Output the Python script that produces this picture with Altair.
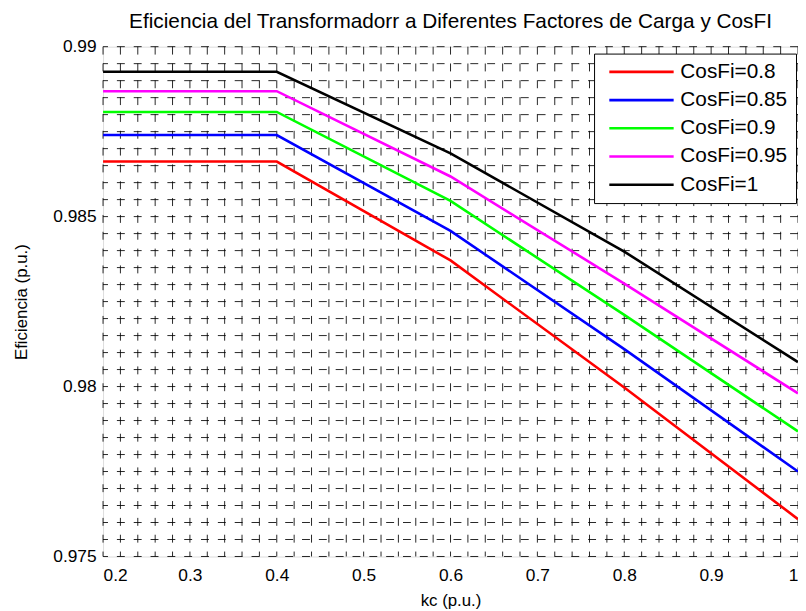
import altair as alt
import pandas as pd

# ---- data ----
kc = [0.2, 0.4, 0.6, 0.8, 1.0]
series_names = ["CosFi=0.8", "CosFi=0.85", "CosFi=0.9", "CosFi=0.95", "CosFi=1"]
ef_080 = [0.98662, 0.98662, 0.98371, 0.97997, 0.97610]
ef_085 = [0.98740, 0.98740, 0.98458, 0.98110, 0.97750]
ef_090 = [0.98808, 0.98808, 0.98546, 0.98211, 0.97868]
ef_095 = [0.98869, 0.98869, 0.98618, 0.98303, 0.97980]
ef_100 = [0.98926, 0.98926, 0.98686, 0.98397, 0.98072]
line_colors = ["#ff0000", "#0000ff", "#00ff00", "#ff00ff", "#000000"]

x_tick_values = [0.2, 0.3, 0.4, 0.5, 0.6, 0.7, 0.8, 0.9, 1.0]
y_tick_values = [0.975, 0.98, 0.985, 0.99]
x_grid_values = [round(0.2 + 0.02 * i, 2) for i in range(41)]
y_grid_values = [round(0.975 + 0.0005 * i, 4) for i in range(31)]

all_series = [ef_080, ef_085, ef_090, ef_095, ef_100]
rows = []
for name, vals in zip(series_names, all_series):
    for x, y in zip(kc, vals):
        rows.append({"kc": x, "ef": y, "serie": name})
df = pd.DataFrame(rows)

FONT = "Liberation Sans"

xscale = alt.Scale(domain=[0.2, 1.0], nice=False, zero=False)
yscale = alt.Scale(domain=[0.975, 0.99], nice=False, zero=False)

x_axis = alt.Axis(values=x_tick_values, format="~g", title="kc (p.u.)",
                  grid=False, domain=False, ticks=False, tickSize=0,
                  labelPadding=10, labelFontSize=17.5, labelFont=FONT,
                  labelColor="black", titleFont=FONT, titleFontSize=17,
                  titleFontWeight="normal", titleColor="black",
                  titleX=351, titleY=44, titleBaseline="middle")
y_axis = alt.Axis(values=y_tick_values, format="~g", title="Eficiencia (p.u.)",
                  grid=False, domain=False, ticks=False, tickSize=0,
                  labelPadding=7, labelFontSize=17.5, labelFont=FONT,
                  labelColor="black", titleFont=FONT, titleFontSize=17,
                  titleFontWeight="normal", titleColor="black",
                  titleX=-82, titleY=257.5, titleBaseline="middle", titleAngle=270)

grid_v = alt.Chart(pd.DataFrame({"kc": x_grid_values})).mark_rule(
    color="black", strokeWidth=1, strokeDash=[8, 9], opacity=0.85
).encode(x=alt.X("kc:Q", scale=xscale, axis=x_axis))

grid_h = alt.Chart(pd.DataFrame({"ef": y_grid_values})).mark_rule(
    color="black", strokeWidth=1, strokeDash=[8, 9], opacity=0.85
).encode(y=alt.Y("ef:Q", scale=yscale, axis=y_axis))

lines = alt.Chart(df).mark_line(strokeWidth=2.6, clip=True).encode(
    x=alt.X("kc:Q", scale=xscale, axis=x_axis),
    y=alt.Y("ef:Q", scale=yscale, axis=y_axis),
    color=alt.Color("serie:N", sort=series_names,
                    scale=alt.Scale(domain=series_names, range=line_colors),
                    legend=alt.Legend(title=None, orient="none", legendX=496, legendY=7,
                                      padding=8, symbolType="M-4,0H4", symbolSize=264,
                                      symbolStrokeWidth=2.6, symbolOffset=29.4,
                                      labelOffset=28.75, rowPadding=6.5,
                                      labelFont=FONT, labelFontSize=21, labelColor="black",
                                      labelLimit=300,
                                      fillColor="white", strokeColor="black",
                                      cornerRadius=0)),
    order=alt.Order("kc:Q"),
)

chart = alt.layer(grid_v, grid_h, lines).properties(
    width=702, height=515,
    autosize=alt.AutoSizeParams(type="none"),
    padding={"left": 96, "top": 36, "right": 0, "bottom": 52},
    title=alt.TitleParams(
        "Eficiencia del Transformadorr a Diferentes Factores de Carga y CosFI",
        font=FONT, fontSize=21, fontWeight="normal", color="black",
        anchor="middle", offset=6, frame="group"),
).configure_view(stroke="black", strokeWidth=1).configure(background="white")

chart.save("out.html", embed_options={"renderer": "svg", "actions": False})
